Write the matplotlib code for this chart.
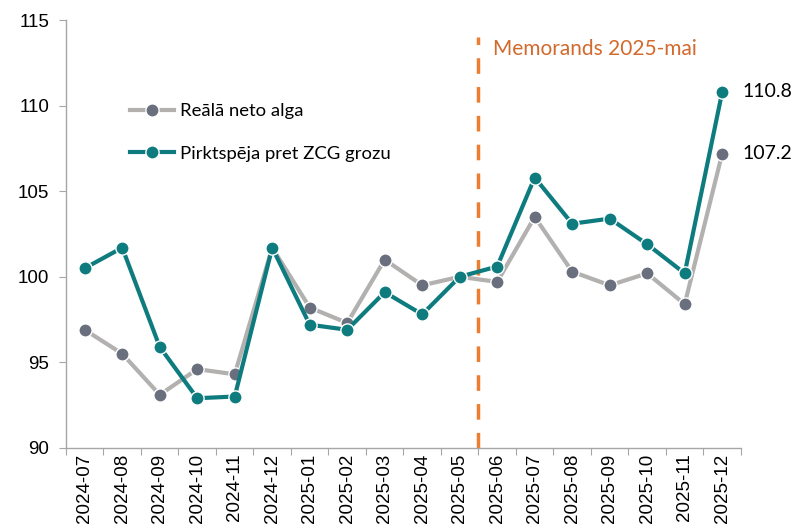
import numpy as np
import matplotlib.pyplot as plt

# -------- Data --------
months = ["2024-07", "2024-08", "2024-09", "2024-10", "2024-11", "2024-12",
          "2025-01", "2025-02", "2025-03", "2025-04", "2025-05", "2025-06",
          "2025-07", "2025-08", "2025-09", "2025-10", "2025-11", "2025-12"]
real_wage = [96.9, 95.5, 93.1, 94.6, 94.3, 101.7, 98.2, 97.3, 101.0, 99.5, 100.0, 99.7,
             103.5, 100.3, 99.5, 100.2, 98.4, 107.2]
purchasing = [100.5, 101.7, 95.9, 92.9, 93.0, 101.7, 97.2, 96.9, 99.1, 97.8, 100.0, 100.6,
              105.8, 103.1, 103.4, 101.9, 100.2, 110.8]
memo_pos = 10.5
memo_label = "Memorands 2025-mai"

# -------- Style --------
teal = "#0E7C7F"
grey_line = "#B3B0B0"
grey_dot = "#6A6F7E"
orange = "#ED7D31"
tick_font = "Liberation Sans"
text_font = "Lato"

fig = plt.figure(figsize=(7.95, 5.3), dpi=100)
ax = fig.add_axes([0.083, 0.155, 0.849, 0.807])

x = np.arange(len(months))
ax.plot(x, real_wage, color=grey_line, lw=3.0, marker="o", ms=9.5,
        mfc=grey_dot, mec="white", mew=1.0, label="Reālā neto alga", zorder=3)
ax.plot(x, purchasing, color=teal, lw=3.0, marker="o", ms=9.5,
        mfc=teal, mec="white", mew=1.0, label="Pirktspēja pret ZCG grozu", zorder=4)

ax.vlines(memo_pos, 90, 114, colors=orange, lw=2.5, linestyles=(0, (4.5, 3.8)), zorder=2)
ax.text(memo_pos + 0.4, 113.3, memo_label, color="#D2692D", fontsize=15,
        family=text_font, va="center", ha="left")

ax.text(x[-1] + 0.55, purchasing[-1], f"{purchasing[-1]:.1f}", fontsize=14,
        family=text_font, va="center", ha="left")
ax.text(x[-1] + 0.55, real_wage[-1], f"{real_wage[-1]:.1f}", fontsize=14,
        family=text_font, va="center", ha="left")

# -------- Axes --------
ax.set_xlim(-0.5, len(months) - 0.5)
ax.set_ylim(90, 115)
ax.set_yticks([90, 95, 100, 105, 110, 115])
ax.set_xticks(np.arange(len(months) + 1) - 0.5)
ax.set_xticklabels([])
ax.set_xticks(x, minor=True)
ax.set_xticklabels(months, minor=True, rotation=90)
ax.tick_params(axis="x", which="major", length=5, color="#A6A6A6")
ax.tick_params(axis="x", which="minor", length=0, pad=4, labelsize=13.5)
ax.tick_params(axis="y", length=5, color="#A6A6A6", labelsize=13.5, pad=7)
for lbl in ax.get_xticklabels(minor=True) + ax.get_yticklabels():
    lbl.set_family(tick_font)

for s in ["top", "right"]:
    ax.spines[s].set_visible(False)
for s in ["left", "bottom"]:
    ax.spines[s].set_color("#A6A6A6")
    ax.spines[s].set_linewidth(1.0)

ax.legend(loc="upper left", bbox_to_anchor=(0.07, 0.845), frameon=False,
          prop={"family": text_font, "size": 13.3}, handlelength=2.4,
          handletextpad=0.3, labelspacing=1.45)

fig.savefig("out.png", dpi=100)
